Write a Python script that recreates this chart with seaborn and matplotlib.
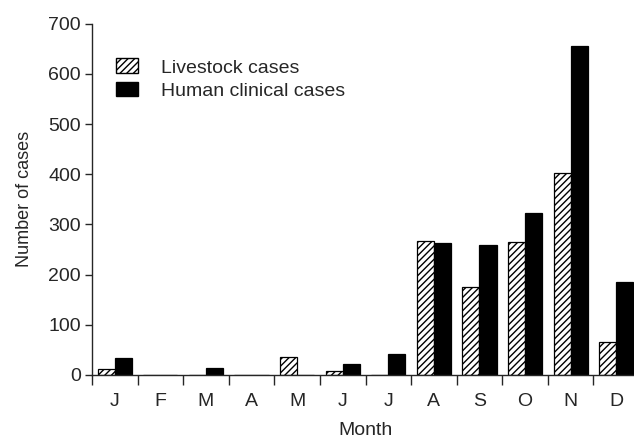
import numpy as np
import pandas as pd
import matplotlib
matplotlib.use("Agg")
import matplotlib.pyplot as plt
from matplotlib.patches import Patch
import seaborn as sns

# values
months = ["J", "F", "M", "A", "M", "J", "J", "A", "S", "O", "N", "D"]
livestock = [11, 0, 0, 0, 36, 7, 0, 266, 176, 264, 403, 66]
human = [34, 0, 14, 0, 0, 22, 42, 262, 258, 323, 656, 186]
series = ["Livestock cases", "Human clinical cases"]

df = pd.DataFrame({
    "month_idx": list(range(12)) * 2,
    "cases": livestock + human,
    "type": [series[0]] * 12 + [series[1]] * 12,
})

sns.set_style("ticks")
plt.rcParams["font.family"] = ["Liberation Sans", "DejaVu Sans"]
plt.rcParams["hatch.linewidth"] = 1.0

fig = plt.figure(figsize=(6.34, 4.41), dpi=100)
ax = fig.add_axes([0.145, 0.150, 0.863, 0.796])

sns.barplot(data=df, x="month_idx", y="cases", hue="type", hue_order=series,
            palette=["white", "black"], edgecolor="black", linewidth=0.9,
            width=0.75, ax=ax, legend=False)

# hatch the livestock bars
for bar in ax.patches[:12]:
    bar.set_hatch("/////")

ax.set_xlim(-0.5, 11.5)
ax.set_ylim(0, 700)
ax.set_yticks(np.arange(0, 701, 100))
ax.set_xticks(np.arange(-0.5, 12, 1))
ax.set_xticklabels([""] * 13)
ax.set_xticks(range(12), minor=True)
ax.set_xticklabels(months, minor=True)
ax.tick_params(axis="x", which="major", length=7, width=1, direction="out")
ax.tick_params(axis="x", which="minor", length=0, pad=13, labelsize=14)
ax.tick_params(axis="y", length=5, width=1, pad=3, labelsize=14)

for side in ["top", "right"]:
    ax.spines[side].set_visible(False)
for side in ["left", "bottom"]:
    ax.spines[side].set_linewidth(1)

ax.set_xlabel("Month", fontsize=14, labelpad=9)
ax.set_ylabel("Number of cases", fontsize=13, labelpad=11)

handles = [Patch(facecolor="white", edgecolor="black", hatch="/////", label=series[0]),
           Patch(facecolor="black", edgecolor="black", label=series[1])]
ax.legend(handles=handles, loc="upper left", bbox_to_anchor=(0.02, 0.94),
          frameon=False, fontsize=14, handlelength=1.1, handleheight=0.8,
          labelspacing=0.25, handletextpad=1.2, borderpad=0.2)

fig.savefig("out.png", dpi=100)
